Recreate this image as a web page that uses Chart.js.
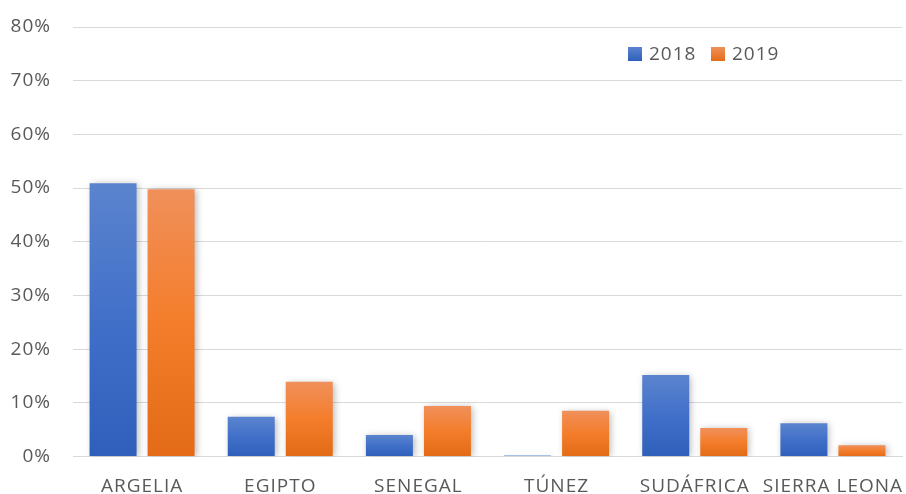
<!DOCTYPE html>
<html>
<head>
<meta charset="utf-8">
<script src="https://cdn.jsdelivr.net/npm/chart.js@4"></script>
<style>
  html, body { margin: 0; padding: 0; background: #fff; }
  #wrap { width: 906px; height: 494px; }
</style>
</head>
<body>
<div id="wrap"><canvas id="chart" width="906" height="494"></canvas></div>
<script>
// Datos
const paises = ["ARGELIA", "EGIPTO", "SENEGAL", "TÚNEZ", "SUDÁFRICA", "SIERRA LEONA"];
const serie2018 = [50.9, 7.4, 4.0, 0.2, 15.2, 6.2];
const serie2019 = [49.8, 13.9, 9.4, 8.5, 5.3, 2.1];
const años = ["2018", "2019"];

const FONT = "'Open Sans', sans-serif";
const TEXT = "#595959";

const STOPS = {
  blue: ["#5b84ce", "#4170c9", "#2e5fba"],
  orange: ["#f0905a", "#f47d2b", "#e36b17"],
};

function barGradient(stops) {
  return function (c) {
    const chart = c.chart;
    if (!chart.chartArea || c.type !== "data") return stops[1];
    const y = chart.scales.y;
    const top = y.getPixelForValue(c.raw);
    const bottom = y.getPixelForValue(0);
    if (!(bottom - top > 0.5)) return stops[1];
    const g = chart.ctx.createLinearGradient(0, top, 0, bottom);
    g.addColorStop(0, stops[0]);
    g.addColorStop(0.5, stops[1]);
    g.addColorStop(1, stops[2]);
    return g;
  };
}

// sombra suave de las barras
const barShadow = {
  id: "barShadow",
  beforeDatasetsDraw(chart) {
    const ctx = chart.ctx;
    ctx.save();
    ctx.shadowColor = "rgba(0,0,0,0.28)";
    ctx.shadowBlur = 7;
    ctx.shadowOffsetX = 2;
    ctx.shadowOffsetY = 1;
  },
  afterDatasetsDraw(chart) {
    chart.ctx.restore();
  }
};

// leyenda dentro del área
const innerLegend = {
  id: "innerLegend",
  afterDraw(chart) {
    const ctx = chart.ctx;
    const items = [
      { x: 628, label: años[0], stops: STOPS.blue },
      { x: 711, label: años[1], stops: STOPS.orange },
    ];
    ctx.save();
    ctx.font = "19px " + FONT;
    ctx.textBaseline = "middle";
    ctx.fillStyle = TEXT;
    items.forEach(it => {
      const g = ctx.createLinearGradient(0, 47, 0, 61);
      g.addColorStop(0, it.stops[0]);
      g.addColorStop(1, it.stops[2]);
      ctx.fillStyle = g;
      ctx.fillRect(it.x, 47, 14, 14);
      ctx.fillStyle = TEXT;
      ctx.fillText(it.label, it.x + 21, 55);
    });
    ctx.restore();
  }
};

const spacing = {
  id: "spacing",
  beforeDraw(chart) { chart.ctx.letterSpacing = "1px"; }
};

new Chart(document.getElementById("chart"), {
  type: "bar",
  data: {
    labels: paises,
    datasets: [
      {
        label: años[0],
        data: serie2018,
        backgroundColor: barGradient(STOPS.blue),
        categoryPercentage: 0.84,
        barPercentage: 0.81,
      },
      {
        label: años[1],
        data: serie2019,
        backgroundColor: barGradient(STOPS.orange),
        categoryPercentage: 0.84,
        barPercentage: 0.81,
      },
    ]
  },
  options: {
    responsive: false,
    animation: false,
    devicePixelRatio: 1,
    layout: { padding: { top: 27, right: 4, bottom: 0, left: 0 } },
    plugins: {
      legend: { display: false },
      tooltip: { enabled: false },
    },
    scales: {
      x: {
        grid: { display: false, drawTicks: false },
        border: { display: true, color: "#d9d9d9", width: 1 },
        ticks: { color: TEXT, font: { family: FONT, size: 19 }, padding: 19, maxRotation: 0, autoSkip: false },
        afterFit: s => { s.height = 37.5; s.paddingLeft = 0; s.paddingRight = 0; },
      },
      y: {
        min: 0,
        max: 80,
        grid: { color: "#d9d9d9", lineWidth: 1, drawTicks: false },
        border: { display: false },
        ticks: {
          stepSize: 10,
          color: TEXT,
          font: { family: FONT, size: 19 },
          padding: 22,
          callback: v => v + "%",
        },
        afterFit: s => { s.width = 73; s.paddingTop = 0; s.paddingBottom = 0; },
      }
    }
  },
  plugins: [spacing, barShadow, innerLegend]
});
</script>
</body>
</html>
